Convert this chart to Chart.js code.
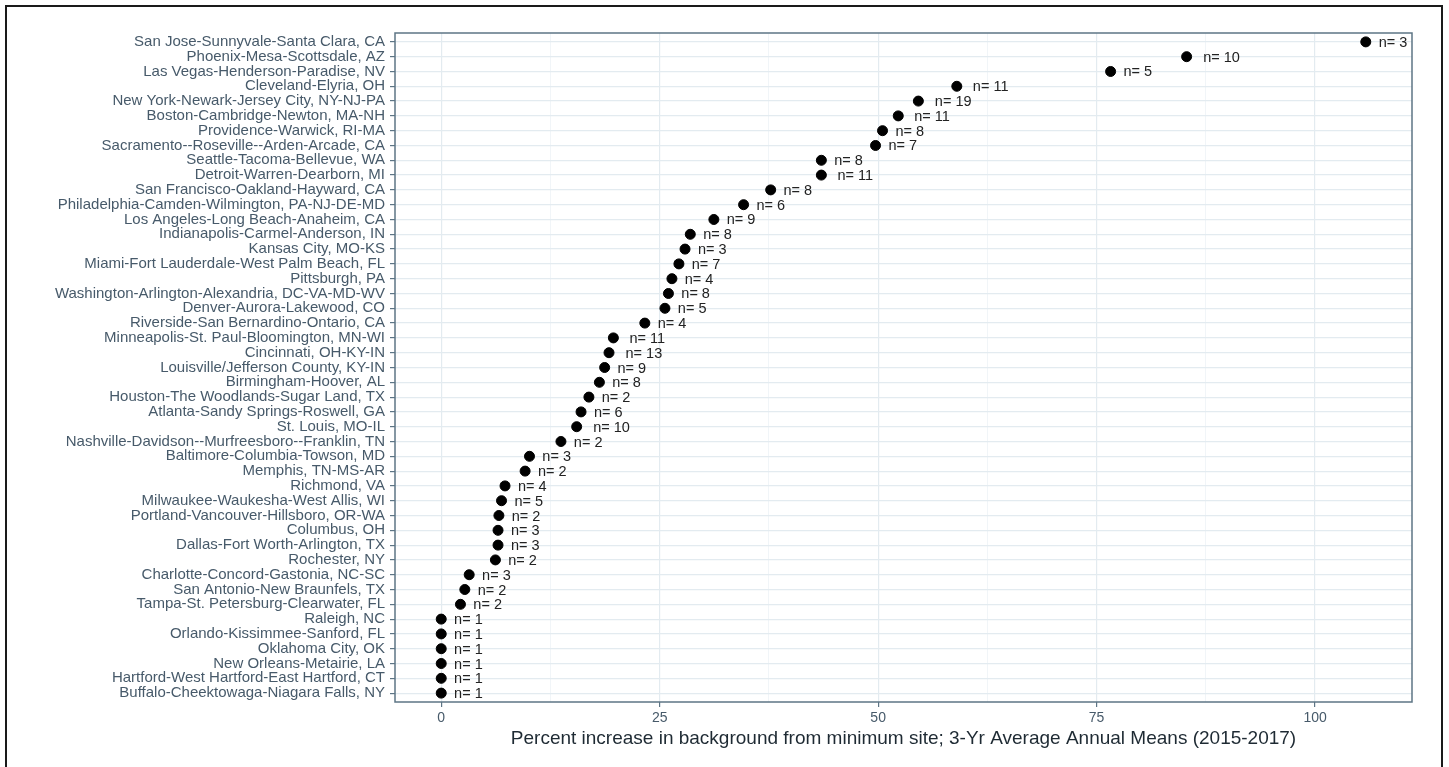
<!DOCTYPE html>
<html>
<head>
<meta charset="utf-8">
<title>Percent increase in background from minimum site</title>
<script src="https://cdn.jsdelivr.net/npm/chart.js@4"></script>
<style>
  html, body { margin: 0; padding: 0; background: #fff; }
  #wrap { width: 1449px; height: 767px; position: relative; }
</style>
</head>
<body>
<div id="wrap"><canvas id="chart" width="1449" height="767"></canvas></div>
<script>
// Metro areas, top to bottom
const cities = [
  'San Jose-Sunnyvale-Santa Clara, CA',
  'Phoenix-Mesa-Scottsdale, AZ',
  'Las Vegas-Henderson-Paradise, NV',
  'Cleveland-Elyria, OH',
  'New York-Newark-Jersey City, NY-NJ-PA',
  'Boston-Cambridge-Newton, MA-NH',
  'Providence-Warwick, RI-MA',
  'Sacramento--Roseville--Arden-Arcade, CA',
  'Seattle-Tacoma-Bellevue, WA',
  'Detroit-Warren-Dearborn, MI',
  'San Francisco-Oakland-Hayward, CA',
  'Philadelphia-Camden-Wilmington, PA-NJ-DE-MD',
  'Los Angeles-Long Beach-Anaheim, CA',
  'Indianapolis-Carmel-Anderson, IN',
  'Kansas City, MO-KS',
  'Miami-Fort Lauderdale-West Palm Beach, FL',
  'Pittsburgh, PA',
  'Washington-Arlington-Alexandria, DC-VA-MD-WV',
  'Denver-Aurora-Lakewood, CO',
  'Riverside-San Bernardino-Ontario, CA',
  'Minneapolis-St. Paul-Bloomington, MN-WI',
  'Cincinnati, OH-KY-IN',
  'Louisville/Jefferson County, KY-IN',
  'Birmingham-Hoover, AL',
  'Houston-The Woodlands-Sugar Land, TX',
  'Atlanta-Sandy Springs-Roswell, GA',
  'St. Louis, MO-IL',
  'Nashville-Davidson--Murfreesboro--Franklin, TN',
  'Baltimore-Columbia-Towson, MD',
  'Memphis, TN-MS-AR',
  'Richmond, VA',
  'Milwaukee-Waukesha-West Allis, WI',
  'Portland-Vancouver-Hillsboro, OR-WA',
  'Columbus, OH',
  'Dallas-Fort Worth-Arlington, TX',
  'Rochester, NY',
  'Charlotte-Concord-Gastonia, NC-SC',
  'San Antonio-New Braunfels, TX',
  'Tampa-St. Petersburg-Clearwater, FL',
  'Raleigh, NC',
  'Orlando-Kissimmee-Sanford, FL',
  'Oklahoma City, OK',
  'New Orleans-Metairie, LA',
  'Hartford-West Hartford-East Hartford, CT',
  'Buffalo-Cheektowaga-Niagara Falls, NY'
];

// Percent increase over the minimum site (3-yr average annual means)
const pctIncrease = [
  105.8, 85.3, 76.6, 59.0, 54.6, 52.3, 50.5, 49.7, 43.5, 43.5,
  37.7, 34.6, 31.2, 28.5, 27.9, 27.2, 26.4, 26.0, 25.6, 23.3,
  19.7, 19.2, 18.7, 18.1, 16.9, 16.0, 15.5, 13.7, 10.1, 9.6,
  7.3, 6.9, 6.6, 6.5, 6.5, 6.2, 3.2, 2.7, 2.2, 0,
  0, 0, 0, 0, 0
];

// Number of monitoring sites per metro
const siteCounts = [
  3, 10, 5, 11, 19, 11, 8, 7, 8, 11,
  8, 6, 9, 8, 3, 7, 4, 8, 5, 4,
  11, 13, 9, 8, 2, 6, 10, 2, 3, 2,
  4, 5, 2, 3, 3, 2, 3, 2, 2, 1,
  1, 1, 1, 1, 1
];

const xTicks = [0, 25, 50, 75, 100];
const xMinorTicks = [12.5, 37.5, 62.5, 87.5];

const FONT = '"Liberation Sans", Arial, Helvetica, sans-serif';
const AXIS_TEXT = '#475a6a';
const PANEL_LINE = '#5d7585';
const GRID_MAJOR = '#e3ebf0';
const GRID_MINOR = '#eef3f6';

// n= labels next to each point
const countLabels = {
  id: 'countLabels',
  afterDatasetsDraw(chart) {
    const ctx = chart.ctx;
    const xs = chart.scales.x;
    const ys = chart.scales.y;
    ctx.save();
    ctx.font = '14.5px ' + FONT;
    ctx.fillStyle = '#222222';
    ctx.textAlign = 'left';
    ctx.textBaseline = 'middle';
    siteCounts.forEach((n, i) => {
      const text = 'n= ' + n;
      const w = ctx.measureText(text).width;
      const px = xs.getPixelForValue(pctIncrease[i]);
      const py = ys.getPixelForValue(i);
      ctx.fillText(text, px + 0.45 * w, py + 1);
    });
    ctx.restore();
  }
};

// Panel border + outer figure frame
const frames = {
  id: 'frames',
  afterDraw(chart) {
    const ctx = chart.ctx;
    const a = chart.chartArea;
    ctx.save();
    ctx.strokeStyle = PANEL_LINE;
    ctx.lineWidth = 1.5;
    ctx.strokeRect(a.left, a.top, a.right - a.left, a.bottom - a.top);
    ctx.strokeStyle = '#1a1a1a';
    ctx.lineWidth = 2;
    ctx.strokeRect(6, 6, 1436, 800);
    ctx.restore();
  }
};

const points = pctIncrease.map((v, i) => ({ x: v, y: i }));

new Chart(document.getElementById('chart'), {
  type: 'scatter',
  data: {
    datasets: [{
      data: points,
      backgroundColor: '#000000',
      borderColor: '#000000',
      pointRadius: 5,
      pointHoverRadius: 5
    }]
  },
  options: {
    responsive: false,
    devicePixelRatio: 1,
    animation: false,
    layout: { padding: { top: 33, right: 37, bottom: 0, left: 0 } },
    plugins: {
      legend: { display: false },
      tooltip: { enabled: false }
    },
    scales: {
      x: {
        type: 'linear',
        min: -5.29,
        max: 111.09,
        afterBuildTicks: axis => {
          axis.ticks = xTicks.concat(xMinorTicks).sort((a, b) => a - b).map(v => ({ value: v }));
        },
        afterFit: axis => { axis.height = 65; },
        ticks: {
          autoSkip: false,
          maxRotation: 0,
          padding: 3,
          color: AXIS_TEXT,
          font: { family: FONT, size: 14 },
          callback: v => (xTicks.includes(v) ? String(v) : '')
        },
        grid: {
          color: c => (xTicks.includes(c.tick.value) ? GRID_MAJOR : GRID_MINOR),
          lineWidth: c => (xTicks.includes(c.tick.value) ? 1.2 : 0.8),
          tickColor: c => (xTicks.includes(c.tick.value) ? PANEL_LINE : 'rgba(0,0,0,0)'),
          tickLength: 5
        },
        border: { display: false },
        title: {
          display: true,
          text: 'Percent increase in background from minimum site; 3-Yr Average Annual Means (2015-2017)',
          color: '#1e2a33',
          font: { family: FONT, size: 19 },
          padding: { top: 0, bottom: 17 }
        }
      },
      y: {
        type: 'linear',
        reverse: true,
        min: -0.6,
        max: cities.length - 0.4,
        afterBuildTicks: axis => {
          axis.ticks = cities.map((c, i) => ({ value: i }));
        },
        afterFit: axis => { axis.width = 395; },
        ticks: {
          autoSkip: false,
          padding: 5,
          color: AXIS_TEXT,
          font: { family: FONT, size: 15 },
          callback: v => cities[v]
        },
        grid: {
          color: GRID_MAJOR,
          lineWidth: 1.2,
          tickColor: PANEL_LINE,
          tickLength: 5
        },
        border: { display: false }
      }
    }
  },
  plugins: [countLabels, frames]
});
</script>
</body>
</html>
